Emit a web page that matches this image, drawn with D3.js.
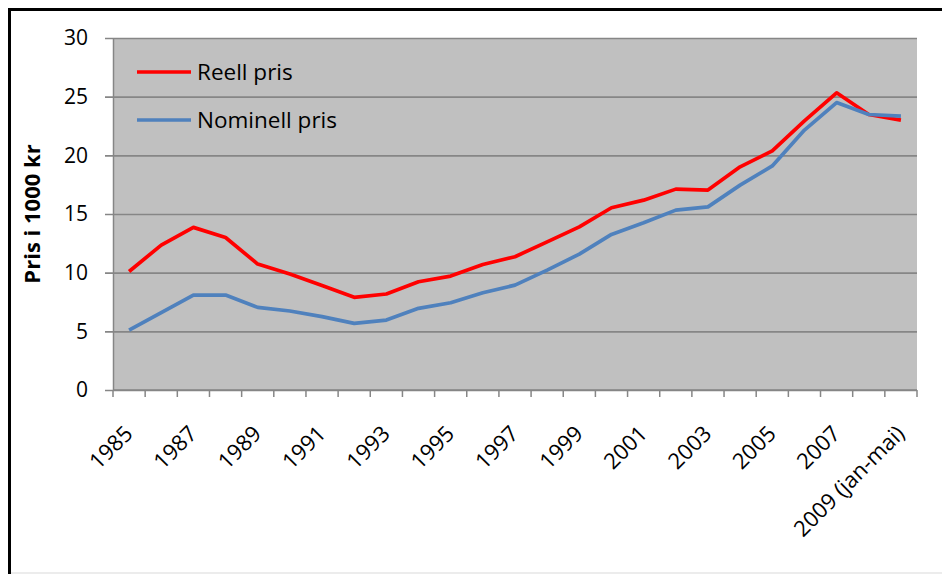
<!DOCTYPE html>
<html>
<head>
<meta charset="utf-8">
<script src="https://cdn.jsdelivr.net/npm/d3@7"></script>
<style>
  body { margin: 0; background: #fff; }
  svg { display: block; font-family: 'Open Sans', sans-serif; }
</style>
</head>
<body>
<svg id="chart" width="942" height="574"></svg>
<script>
const years = ['1985', '1986', '1987', '1988', '1989', '1990', '1991', '1992', '1993', '1994',
  '1995', '1996', '1997', '1998', '1999', '2000', '2001', '2002', '2003', '2004',
  '2005', '2006', '2007', '2008', '2009 (jan-mai)'];
const reell = [10.1, 12.35, 13.86, 13.0, 10.73, 9.88, 8.9, 7.9, 8.18, 9.23,
  9.71, 10.7, 11.36, 12.63, 13.9, 15.53, 16.18, 17.12, 17.04, 19.02,
  20.38, 22.94, 25.33, 23.48, 23.0];
const nominell = [5.1, 6.6, 8.09, 8.09, 7.04, 6.73, 6.25, 5.68, 5.96, 6.96,
  7.44, 8.29, 8.94, 10.22, 11.58, 13.26, 14.25, 15.33, 15.61, 17.46,
  19.1, 22.15, 24.5, 23.48, 23.34];
const yTicks = [0, 5, 10, 15, 20, 25, 30];
const seriesNames = ['Reell pris', 'Nominell pris'];
const seriesColors = ['#ff0000', '#4f81bd'];

const svg = d3.select('#chart');
const plot = { left: 113, right: 917, top: 38, bottom: 390 };

// frame
svg.append('line').attr('x1', 9).attr('x2', 942).attr('y1', 9.5).attr('y2', 9.5)
  .attr('stroke', '#000').attr('stroke-width', 3);
svg.append('line').attr('x1', 9.5).attr('x2', 9.5).attr('y1', 8).attr('y2', 574)
  .attr('stroke', '#000').attr('stroke-width', 3);
svg.append('line').attr('x1', 11).attr('x2', 942).attr('y1', 573).attr('y2', 573)
  .attr('stroke', '#d9d9d9').attr('stroke-width', 1);

const x = d3.scaleBand()
  .domain(years)
  .range([plot.left, plot.right])
  .padding(0);
const y = d3.scaleLinear()
  .domain([0, 30])
  .range([plot.bottom, plot.top]);

svg.append('rect')
  .attr('x', plot.left).attr('y', plot.top)
  .attr('width', plot.right - plot.left).attr('height', plot.bottom - plot.top)
  .attr('fill', '#c0c0c0');

// gridlines + y ticks
const yAxis = d3.axisLeft(y)
  .tickValues(yTicks)
  .tickSizeInner(-(plot.right - plot.left))
  .tickSizeOuter(0)
  .tickPadding(25);
const gy = svg.append('g')
  .attr('transform', `translate(${plot.left}, 0)`)
  .call(yAxis);
gy.select('.domain').attr('stroke', '#868686').attr('stroke-width', 1.5);
gy.selectAll('.tick line').attr('stroke', '#868686').attr('stroke-width', 1.7)
  .attr('x1', -8);
gy.selectAll('.tick text')
  .attr('font-size', 21).attr('fill', '#000')
  .attr('font-family', "'Open Sans', sans-serif");

// x axis, ticks between categories
svg.append('line')
  .attr('x1', plot.left).attr('x2', plot.right)
  .attr('y1', plot.bottom).attr('y2', plot.bottom)
  .attr('stroke', '#868686').attr('stroke-width', 1.7);
const bounds = years.map(d => x(d)).concat([x.range()[1]]);
svg.append('g').selectAll('line')
  .data(bounds)
  .join('line')
    .attr('x1', d => d).attr('x2', d => d)
    .attr('y1', plot.bottom).attr('y2', plot.bottom + 7)
    .attr('stroke', '#868686').attr('stroke-width', 1.5);

const cx = d => x(d) + x.bandwidth() / 2;
svg.append('g').selectAll('text')
  .data(years.filter((d, i) => i % 2 === 0))
  .join('text')
    .attr('transform', d => `translate(${cx(d) + 5}, ${plot.bottom + 45}) rotate(-45)`)
    .attr('text-anchor', 'end')
    .attr('font-size', 22)
    .text(d => d);

// y axis title
svg.append('text')
  .attr('transform', `translate(40, ${(plot.top + plot.bottom) / 2}) rotate(-90)`)
  .attr('text-anchor', 'middle')
  .attr('font-size', 22)
  .attr('font-weight', 'bold')
  .text('Pris i 1000 kr');

// lines
const line = d3.line()
  .x((d, i) => cx(years[i]))
  .y(d => y(d));
[reell, nominell].forEach((vals, k) => {
  svg.append('path')
    .datum(vals)
    .attr('fill', 'none')
    .attr('stroke', seriesColors[k])
    .attr('stroke-width', 3.7)
    .attr('stroke-linejoin', 'round')
    .attr('d', line);
});

// legend
const legend = svg.append('g').selectAll('g')
  .data(seriesNames)
  .join('g')
    .attr('transform', (d, i) => `translate(137, ${72 + i * 48})`);
legend.append('line')
  .attr('x1', 0).attr('x2', 54)
  .attr('stroke', (d, i) => seriesColors[i])
  .attr('stroke-width', 3.7);
legend.append('text')
  .attr('x', 60).attr('y', 8)
  .attr('font-size', 22.5)
  .text(d => d);
</script>
</body>
</html>
